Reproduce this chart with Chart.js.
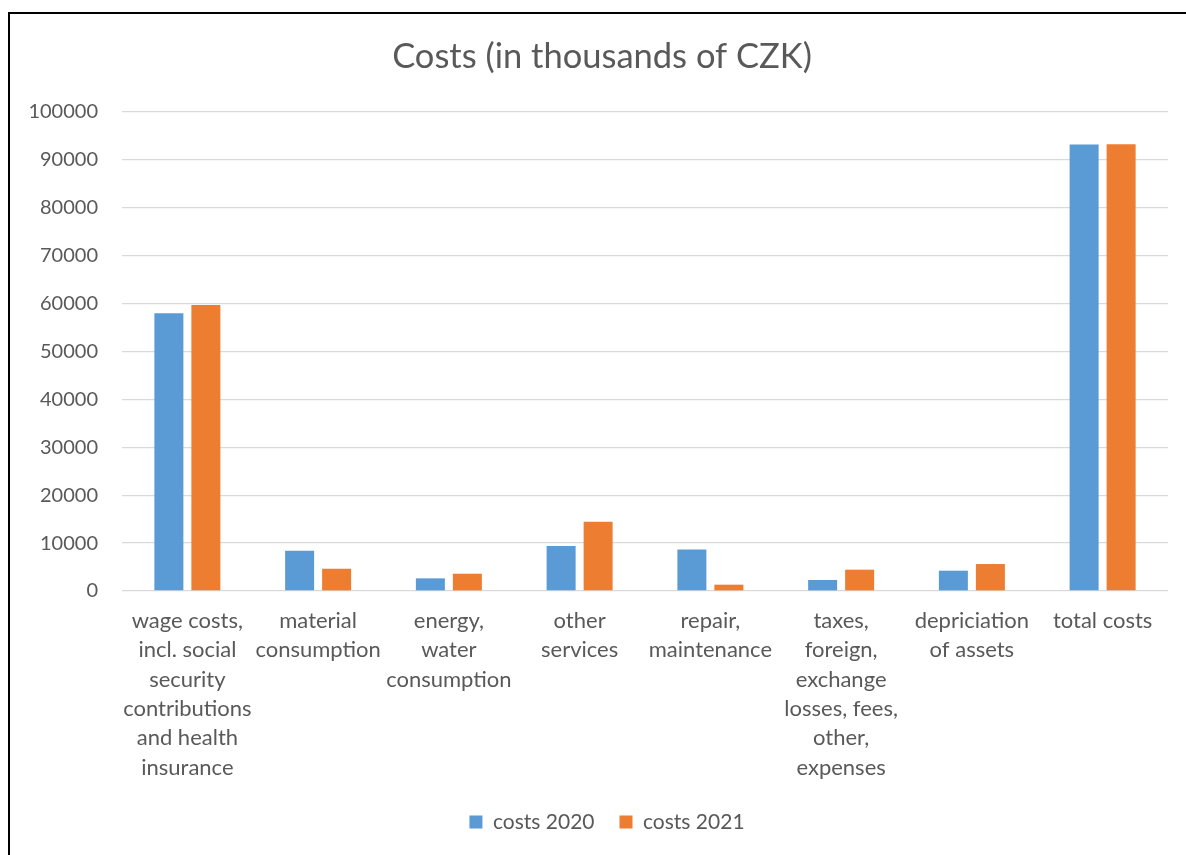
<!DOCTYPE html>
<html>
<head>
<meta charset="utf-8">
<script src="https://cdn.jsdelivr.net/npm/chart.js@4.4.1/dist/chart.umd.min.js"></script>
<style>
  html, body { margin: 0; padding: 0; background: #fff; }
  #wrap { position: relative; width: 1186px; height: 855px; overflow: hidden; }
  #frame { position: absolute; left: 8px; top: 12px; width: 1300px; height: 1000px;
           border-left: 2px solid #000; border-top: 2px solid #000; box-sizing: border-box; }
  canvas { position: absolute; left: 0; top: 0; }
</style>
</head>
<body>
<div id="wrap">
  <div id="frame"></div>
  <canvas id="c" width="1186" height="855"></canvas>
</div>
<script>
const categories = [
  ["wage costs,", "incl. social", "security", "contributions", "and health", "insurance"],
  ["material", "consumption"],
  ["energy,", "water", "consumption"],
  ["other", "services"],
  ["repair,", "maintenance"],
  ["taxes,", "foreign,", "exchange", "losses, fees,", "other,", "expenses"],
  ["depriciation", "of assets"],
  ["total costs"]
];
const costs2020 = [58000, 8400, 2640, 9380, 8680, 2300, 4240, 93200];
const costs2021 = [59700, 4650, 3610, 14440, 1320, 4450, 5630, 93250];
const seriesNames = ["costs 2020", "costs 2021"];
const yTicks = [0, 10000, 20000, 30000, 40000, 50000, 60000, 70000, 80000, 90000, 100000];

const FONT = "Lato, 'Open Sans', sans-serif";
const TEXT = "#595959";
const LEGEND_PAD = 25;
const LEGEND_SIZE = 21;

const shiftPlugin = {
  id: 'shift',
  afterLayout(chart) {
    const t = chart.titleBlock;
    if (t) { t.left += 18; t.right += 18; }
    const l = chart.legend;
    if (l) {
      const dy = 822 - (l.top + LEGEND_PAD + LEGEND_SIZE / 2);
      l.top += dy; l.bottom += dy;
      l.left += 23; l.right += 23;
    }
  }
};

new Chart(document.getElementById('c'), {
  type: 'bar',
  plugins: [shiftPlugin],
  data: {
    labels: categories,
    datasets: [
      { label: seriesNames[0], data: costs2020, backgroundColor: '#5B9BD5', borderWidth: 0,
        categoryPercentage: 0.566, barPercentage: 0.784 },
      { label: seriesNames[1], data: costs2021, backgroundColor: '#ED7D31', borderWidth: 0,
        categoryPercentage: 0.566, barPercentage: 0.784 }
    ]
  },
  options: {
    responsive: false,
    animation: false,
    layout: { padding: { left: 0, right: 18, top: 0, bottom: 0 } },
    plugins: {
      title: {
        display: true,
        text: "Costs (in thousands of CZK)",
        color: TEXT,
        font: { family: FONT, size: 34.5, weight: 'normal', lineHeight: 1.2 },
        padding: { top: 36.3, bottom: 34.3 }
      },
      legend: {
        position: 'bottom',
        labels: {
          color: TEXT,
          font: { family: FONT, size: LEGEND_SIZE },
          boxWidth: 13, boxHeight: 13,
          padding: LEGEND_PAD
        }
      },
      tooltip: { enabled: false }
    },
    scales: {
      x: {
        grid: { display: false, drawTicks: false },
        border: { display: false },
        ticks: { color: TEXT, font: { family: FONT, size: 22, lineHeight: 1.336 }, padding: 15, maxRotation: 0, autoSkip: false },
        afterFit: (s) => { s.height = 855 - 591 - (s.chart.legend ? s.chart.legend.height : 0); }
      },
      y: {
        min: 0, max: 100000,
        afterBuildTicks: (s) => { s.ticks = yTicks.map(v => ({ value: v })); },
        grid: { color: '#D9D9D9', lineWidth: 1.3, drawTicks: false },
        border: { display: false },
        ticks: { color: TEXT, font: { family: FONT, size: 20 }, padding: 24, callback: (v) => String(v) },
        afterFit: (s) => { s.width = 122; }
      }
    }
  }
});
</script>
</body>
</html>
